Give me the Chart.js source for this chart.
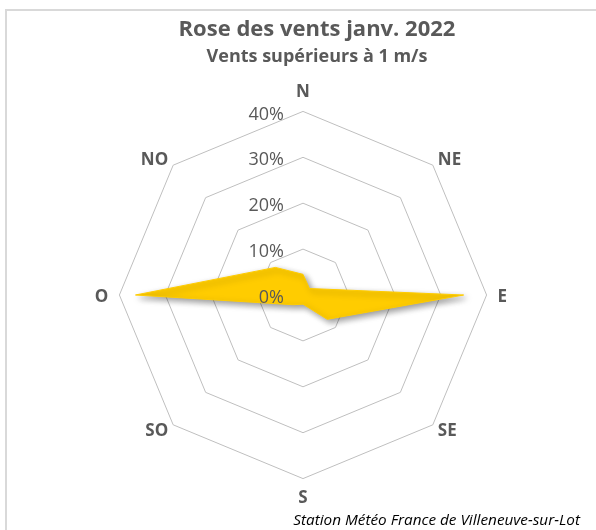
<!DOCTYPE html>
<html>
<head>
<meta charset="utf-8">
<script src="https://cdn.jsdelivr.net/npm/chart.js@4.4.1/dist/chart.umd.min.js"></script>
<style>
html,body{margin:0;padding:0;background:#fff;overflow:hidden;width:596px;height:530px}
#frame{position:absolute;left:5px;top:9px;width:620px;height:521px;border-left:2px solid #d9d9d9;border-top:2px solid #d9d9d9}
#wrap{position:absolute;left:0;top:0;width:620px;height:521px}
#source{position:absolute;right:16px;top:509px;font-family:"Open Sans",sans-serif;font-style:italic;font-size:15.3px;color:#000;white-space:nowrap}
</style>
</head>
<body>
<div id="frame"><div id="wrap"><canvas id="rose"></canvas></div></div>
<div id="source">Station Météo France de Villeneuve-sur-Lot</div>
<script>
const directions=["N","NE","E","SE","S","SO","O","NO"]
const frequencies=[4.5,2,35,7.5,2,3,36.5,8.5]
const tickValues=[0,10,20,30,40]
const tickLabels=["0%","10%","20%","30%","40%"]

const grey="#595959"
const fontFam="'Open Sans', sans-serif"

// tick labels drawn left of the N axis, like the original
const tickLabelsPlugin={
id:'tickLabelsLeft',
afterDatasetsDraw(chart){
const sc=chart.scales.r
const ctx=chart.ctx
ctx.save()
ctx.font="18px "+fontFam
ctx.fillStyle=grey
ctx.textAlign="right"
ctx.textBaseline="middle"
tickValues.forEach((v,i)=>{
const d=sc.getDistanceFromCenterForValue(v)
ctx.fillText(tickLabels[i],sc.xCenter-19,sc.yCenter-d+3)
})
ctx.restore()
}
}

// direction labels placed next to the outer ring vertices (excel style)
const dirLabelsPlugin={
id:'dirLabels',
afterDraw(chart){
const sc=chart.scales.r
const ctx=chart.ctx
const rMax=sc.getDistanceFromCenterForValue(40)
ctx.save()
ctx.font="bold 17px "+fontFam
ctx.fillStyle=grey
ctx.textBaseline="middle"
directions.forEach((d,i)=>{
const p=sc.getPointPosition(i,rMax)
const a=sc.getIndexAngle(i)-Math.PI/2
const c=Math.cos(a),s=Math.sin(a)
let x=p.x,y=p.y
if(Math.abs(c)<0.1){ctx.textAlign="center";y+=Math.sign(s)*19.5}
else if(Math.abs(s)<0.1){ctx.textAlign=c>0?"left":"right";x+=Math.sign(c)*11;y+=2}
else{ctx.textAlign=c>0?"left":"right";x+=Math.sign(c)*5;y+=s<0?-5:6.5}
ctx.fillText(d,x,y)
})
ctx.restore()
}
}

const shadowPlugin={
id:'fillShadow',
beforeDatasetsDraw(chart){
const ctx=chart.ctx
ctx.save()
ctx.shadowColor="rgba(0,0,0,0.4)"
ctx.shadowBlur=6
ctx.shadowOffsetX=3
ctx.shadowOffsetY=3
},
afterDatasetsDraw(chart){chart.ctx.restore()}
}

// titles centred on the whole (cropped) frame, not on the radar
const titleShiftPlugin={
id:'titleShift',
afterLayout(chart){
chart.boxes.forEach(b=>{
if(b.position==='top'&&b.options&&b.options.text){b.left+=14;b.right+=14}
})
}
}

let chartRose=new Chart(
document.getElementById('rose'),
{
type:'radar',
data:{
labels:directions,
datasets:[{
label:'Fréquence',
data:frequencies,
backgroundColor:'#FFCC00',
borderColor:'#FFCC00',
borderWidth:1,
fill:true,
pointRadius:0
}]
},
options:{
responsive:true,
maintainAspectRatio:false,
animation:false,
layout:{padding:{left:0,right:28,top:5,bottom:22}},
plugins:{
legend:{display:false},
tooltip:{enabled:false},
title:{display:true,text:"Rose des vents janv. 2022",color:grey,font:{family:fontFam,size:22,weight:'bold'},padding:{top:1,bottom:0}},
subtitle:{display:true,text:"Vents supérieurs à 1 m/s",color:grey,font:{family:fontFam,size:18,weight:'bold'},padding:{top:3,bottom:13}}
},
scales:{
r:{
min:0,max:40,
ticks:{stepSize:10,display:false},
grid:{color:'#bfbfbf',lineWidth:1,circular:false},
angleLines:{display:false},
pointLabels:{color:'rgba(0,0,0,0)',font:{family:fontFam,size:17,weight:'bold'},padding:10}
}
}
},
plugins:[shadowPlugin,tickLabelsPlugin,dirLabelsPlugin,titleShiftPlugin]
}
)
</script>
</body>
</html>
